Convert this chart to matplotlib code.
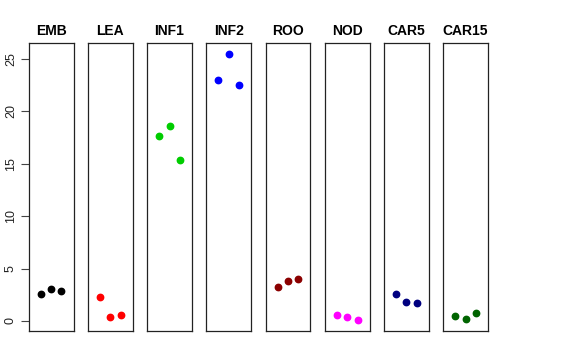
import matplotlib
matplotlib.use("Agg")
import matplotlib.pyplot as plt

plt.rcParams['font.family'] = ['Liberation Sans', 'DejaVu Sans']

categories = ["EMB", "LEA", "INF1", "INF2", "ROO", "NOD", "CAR5", "CAR15"]
values = {
    "EMB":   [2.55, 3.09, 2.87],
    "LEA":   [2.26, 0.35, 0.54],
    "INF1":  [17.64, 18.62, 15.34],
    "INF2":  [22.97, 25.51, 22.52],
    "ROO":   [3.25, 3.86, 3.98],
    "NOD":   [0.60, 0.35, 0.06],
    "CAR5":  [2.61, 1.78, 1.72],
    "CAR15": [0.51, 0.19, 0.73],
}
colors = ["black", "red", "#00CD00", "blue", "#8B0000", "magenta", "#000080", "#006400"]
yticks = [0, 5, 10, 15, 20, 25]

fig = plt.figure(figsize=(5.76, 3.6), dpi=100)
left, right = 28.7 / 576, 488 / 576
bottom, top = 1 - 331 / 360, 1 - 43 / 360
n = len(categories)
pw = 44.8 / 576
step = (right - left - pw) / (n - 1)

allv = [v for c in categories for v in values[c]]
ymin, ymax = min(allv), max(allv)
pad = 0.04 * (ymax - ymin)

for i, cat in enumerate(categories):
    ax = fig.add_axes([left + i * step, bottom, pw, top - bottom])
    ys = values[cat]
    xs = list(range(1, len(ys) + 1))
    ax.plot(xs, ys, 'o', color=colors[i], ms=4.6, mec=colors[i])
    ax.set_xlim(-0.165, 4.165)
    ax.set_ylim(ymin - pad, ymax + pad)
    ax.set_xticks([])
    ax.set_title(cat, fontsize=10, fontweight='bold', pad=6)
    for s in ax.spines.values():
        s.set_linewidth(0.9)
        s.set_color('#222222')
    if i == 0:
        ax.set_yticks(yticks)
        ax.set_yticklabels([str(t) for t in yticks], rotation=90, va='center', fontsize=9,
                           color='#222222')
        ax.tick_params(axis='y', length=5.5, width=0.8, color='#444444', pad=3)
    else:
        ax.set_yticks([])

fig.savefig("out.png", dpi=100)
